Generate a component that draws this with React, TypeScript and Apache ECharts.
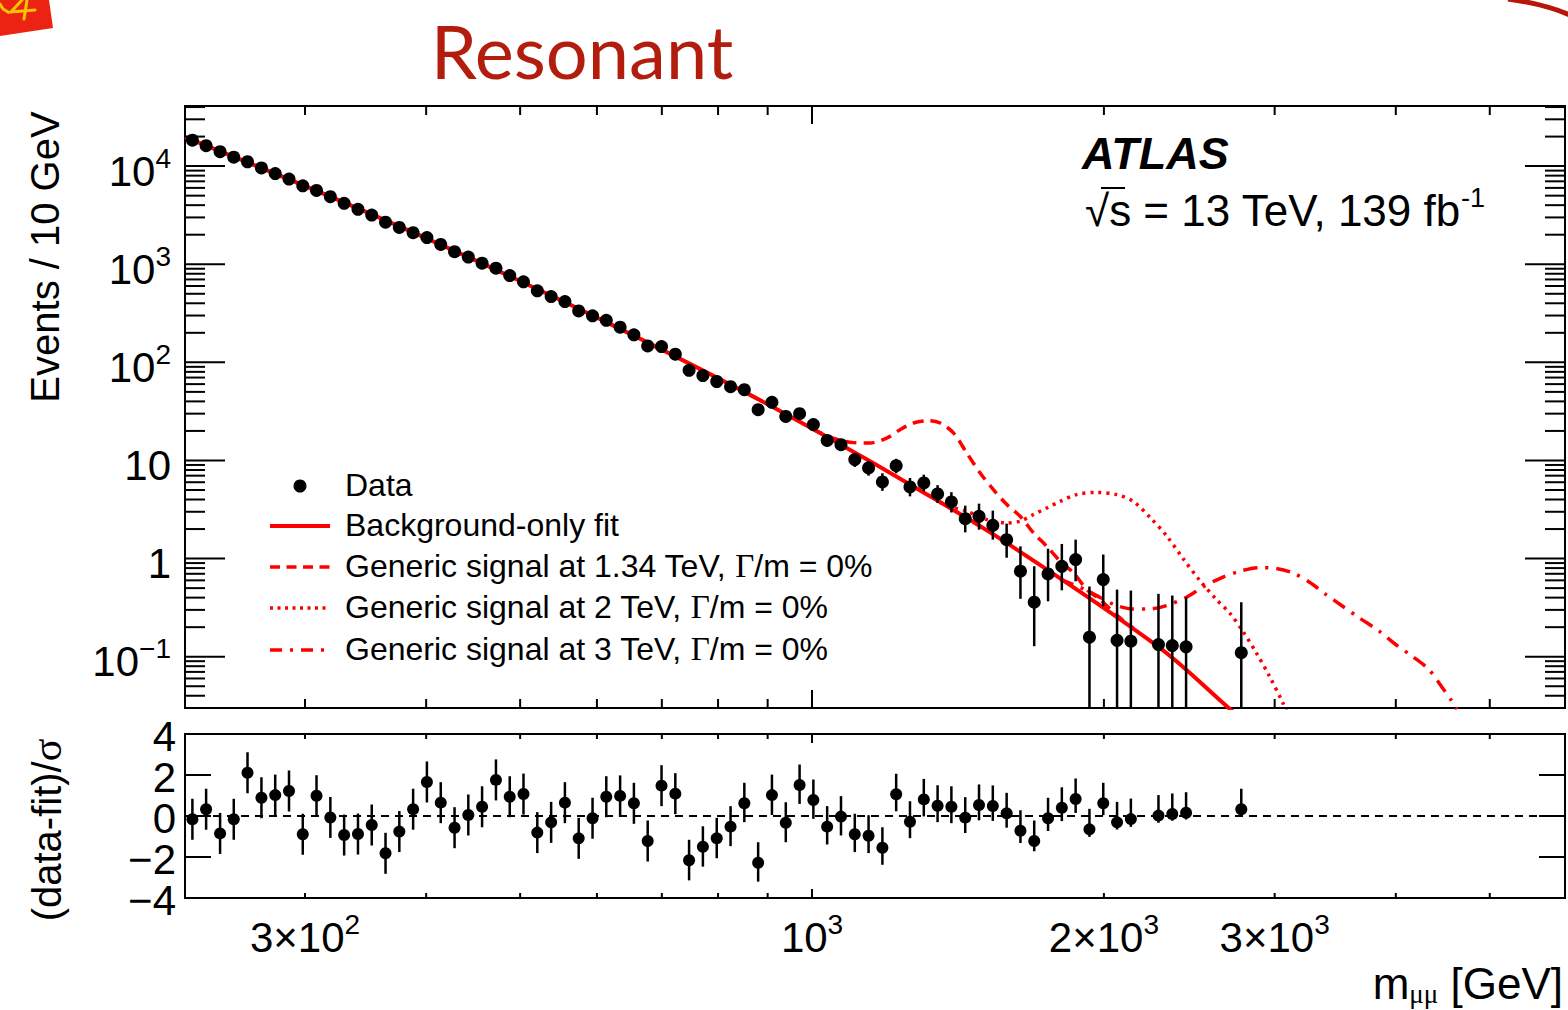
import React, { useEffect, useRef } from "react";
import * as echarts from "echarts";

// ---------------- data ----------------
const massBins = [
  229.6, 237.2, 245.2, 253.3, 261.7, 270.5, 279.5, 288.8, 298.4, 308.3,
  318.6, 329.2, 340.2, 351.5, 363.2, 375.3, 387.8, 400.7, 414.1, 427.9,
  442.1, 456.8, 472.1, 487.8, 504.0, 520.8, 538.2, 556.1, 574.6, 593.8,
  613.5, 634.0, 655.1, 676.9, 699.5, 722.8, 746.8, 771.7, 797.5, 824.1,
  851.5, 879.9, 909.2, 939.6, 970.9, 1003.2, 1036.6, 1071.2, 1106.9, 1143.7,
  1181.9, 1221.2, 1261.9, 1304.0, 1347.4, 1392.3, 1438.8, 1486.7, 1536.2, 1587.5,
  1640.4, 1694.9, 1751.5, 1809.8, 1870.1, 1932.5, 1996.9, 2063.4, 2132.2, 2276.6,
  2352.6, 2430.9, 2771.4,
];
const eventsPer10GeV = [
  18380, 16150, 14020, 12340, 11080, 9575, 8395, 7385, 6297, 5657,
  4883, 4178, 3631, 3169, 2680, 2371, 2098, 1869, 1592, 1344,
  1182, 1026, 912, 767, 662, 536, 468, 416, 334, 298,
  268, 228, 191, 147, 145, 121, 83.0, 73.3, 63.8, 56.5,
  52.6, 32.9, 39.1, 28.1, 30.0, 23.2, 16.0, 14.5, 10.2, 8.39,
  6.04, 8.85, 5.37, 5.9, 4.56, 3.78, 2.55, 2.7, 2.18, 1.56,
  0.743, 0.359, 0.698, 0.835, 0.977, 0.158, 0.611, 0.147, 0.144, 0.133,
  0.13, 0.126, 0.11,
];
// error bars of the tail bins (bins 41..72 of massBins)
const errBarFirstBin = 41;
const eventsErrHigh = [
  36.5, 43.0, 31.3, 33.2, 26.0, 18.3, 16.6, 11.9, 9.9, 7.4,
  10.4, 6.63, 7.17, 5.6, 4.75, 3.46, 3.63, 3.08, 2.27, 1.33,
  0.835, 1.26, 1.41, 1.56, 0.519, 1.1, 0.483, 0.472, 0.437, 0.42,
  0.403, 0.359,
];
const eventsErrLow = [
  29.6, 35.5, 25.2, 26.9, 20.6, 13.9, 12.5, 8.6, 7.0, 4.9,
  7.4, 4.31, 4.85, 3.69, 2.95, 1.85, 1.97, 1.56, 1.02, 0.389,
  0.128, 0.367, 0.475, 0.587, 0.02, 0.327, 0.02, 0.02, 0.02, 0.02,
  0.02, 0.02,
];
const significance = [
  -0.16, 0.33, -0.85, -0.16, 2.11, 0.89, 1.02, 1.22, -0.89, 0.99,
  -0.07, -0.93, -0.88, -0.44, -1.82, -0.76, 0.33, 1.66, 0.65, -0.57,
  0.05, 0.45, 1.76, 0.94, 1.07, -0.81, -0.31, 0.65, -1.09, -0.11,
  0.94, 0.98, 0.62, -1.22, 1.48, 1.09, -2.16, -1.5, -1.09, -0.52,
  0.62, -2.28, 1.02, -0.33, 1.51, 0.78, -0.52, -0.03, -0.89, -0.96,
  -1.55, 1.06, -0.28, 0.81, 0.5, 0.45, -0.08, 0.54, 0.49, 0.13,
  -0.72, -1.22, -0.11, 0.4, 0.83, -0.65, 0.62, -0.31, -0.15, 0.02,
  0.1, 0.16, 0.33,
];
const significanceErrDown = [
  1, 1, 1, 1, 1, 1, 1, 1, 1, 1,
  1, 1, 1, 1, 1, 1, 1, 1, 1, 1,
  1, 1, 1, 1, 1, 1, 1, 1, 1, 1,
  1, 1, 1, 1, 1, 1, 0.98, 0.97, 0.97, 0.95,
  0.92, 0.92, 0.97, 0.95, 0.92, 0.92, 0.87, 0.92, 0.87, 0.85,
  0.83, 0.83, 0.8, 0.83, 0.8, 0.8, 0.75, 0.75, 0.73, 0.7,
  0.6, 0.5, 0.62, 0.65, 0.68, 0.37, 0.58, 0.35, 0.38, 0.35,
  0.33, 0.33, 0.37,
];
const significanceErrUp = 1;

const fitMass = [225.6, 318.6, 442.1, 613.5, 851.5, 1071.2, 1261.9, 1587.5, 2276.6, 2688, 2900];
const fitValue = [19770, 4887, 1180, 257, 50.0, 14.49, 5.7, 1.445, 0.126, 0.0302, 0.0157];

const sig134Mass = [1000, 1035.5, 1068.8, 1103.2, 1147.6, 1194, 1232.6, 1272.3, 1318.2, 1355.4, 1399, 1444.2, 1490.6, 1538.5, 1588.2, 1639.2, 1691.8, 1746.5, 1802.6, 1860.5, 1920.6, 1982.2, 2061.5, 2144.2];
const sig134Value = [21.0, 17.9, 16.1, 15.2, 15.1, 16.9, 20.6, 24.1, 25.4, 24.1, 19.1, 11.9, 7.46, 5.04, 3.55, 2.7, 1.83, 1.33, 0.939, 0.715, 0.483, 0.382, 0.265, 0.195];

const sig2Mass = [1355.4, 1399, 1444.2, 1513.6, 1588.2, 1639.2, 1691.8, 1746.5, 1802.6, 1874.8, 1966, 2061.5, 2144.2, 2231.9, 2320.6, 2413.8, 2511.9, 2612.5, 2695.2, 2781.7, 2871.4, 2963.2, 3058.2, 3085];
const sig2Value = [3.72, 3.31, 3.03, 2.5, 2.31, 2.4, 2.81, 3.28, 3.83, 4.49, 4.73, 4.49, 3.83, 2.62, 1.71, 1.0, 0.597, 0.382, 0.28, 0.182, 0.11, 0.0633, 0.034, 0.0277];

const sig3Mass = [1802.6, 1860.5, 1920.6, 1982.2, 2061.5, 2144.2, 2231.9, 2320.6, 2433.6, 2530.7, 2632.8, 2760.9, 2895.4, 3011.8, 3132.6, 3258.8, 3389.1, 3525.5, 3667.7, 3845.5, 3999.8, 4160, 4327, 4468, 4557, 4625];
const sig3Value = [0.611, 0.544, 0.472, 0.401, 0.332, 0.306, 0.307, 0.332, 0.404, 0.515, 0.626, 0.743, 0.81, 0.791, 0.715, 0.574, 0.43, 0.327, 0.249, 0.182, 0.133, 0.101, 0.074, 0.0482, 0.0367, 0.029];

// axis ticks & labels
const xTickValues = [300, 400, 500, 600, 700, 800, 900, 1000, 2000, 3000, 4000, 5000];
const xMajorTickValues = [1000];
const xLabelValues = [300, 1000, 2000, 3000];
const xLabelTexts = ["{b|3×10}{s|2}", "{b|10}{s|3}", "{b|2×10}{s|3}", "{b|3×10}{s|3}"];
const yMajorValues = [0.1, 1, 10, 100, 1000, 10000];
const yLabelTexts = ["{b|10}{s|−1}", "{b|1}", "{b|10}", "{b|10}{s|2}", "{b|10}{s|3}", "{b|10}{s|4}"];
const yMinorMultipliers = [2, 3, 4, 5, 6, 7, 8, 9];
const ratioTickValues = [-2, 0, 2];
const ratioLabelValues = [-4, -2, 0, 2, 4];
const ratioLabelTexts = ["−4", "−2", "0", "2", "4"];

// ---------------- layout constants ----------------
const X_MIN = 225.6;
const X_MAX = 5978;
const Y_MIN = 0.03;
const Y_MAX = 41000;
const R_MIN = -4;
const R_MAX = 4;
const SANS = "'Liberation Sans', Arial, Helvetica, sans-serif";
const SERIF = "'Liberation Serif', 'Times New Roman', serif";
const RED = "#ff0000";

const richLabel = {
  b: { fontSize: 42, fontFamily: SANS, lineHeight: 48, verticalAlign: "bottom", fill: "#000", color: "#000" },
  s: { fontSize: 28, fontFamily: SANS, lineHeight: 22, verticalAlign: "top", fill: "#000", color: "#000" },
};

function tick(x1: number, y1: number, x2: number, y2: number) {
  return { type: "line", shape: { x1, y1, x2, y2 }, style: { stroke: "#000", lineWidth: 2 } };
}

function buildOption() {
  const yTickData: number[][] = [];
  yMajorValues.forEach((v) => yTickData.push([X_MIN, v, 1]));
  [0.01, 0.1, 1, 10, 100, 1000, 10000].forEach((d) =>
    yMinorMultipliers.forEach((k) => {
      const v = d * k;
      if (v > Y_MIN && v < Y_MAX) yTickData.push([X_MIN, v, 0]);
    })
  );

  const legendY = [486, 526, 567, 608, 650];
  const yellow = { stroke: "#f7c400", lineWidth: 3, fill: "none", lineCap: "round" };

  return {
    animation: false,
    backgroundColor: "#ffffff",
    grid: [
      { left: 185, top: 106, width: 1380, height: 602, show: true, borderColor: "#000", borderWidth: 2, backgroundColor: "transparent", outerBoundsMode: "none" },
      { left: 185, top: 734, width: 1380, height: 164, show: true, borderColor: "#000", borderWidth: 2, backgroundColor: "transparent", outerBoundsMode: "none" },
    ],
    xAxis: [0, 1].map((g) => ({
      type: "log",
      logBase: 10,
      gridIndex: g,
      min: X_MIN,
      max: X_MAX,
      axisLine: { show: false },
      axisTick: { show: false },
      axisLabel: { show: false },
      splitLine: { show: false },
      minorTick: { show: false },
    })),
    yAxis: [
      {
        type: "log", logBase: 10, gridIndex: 0, min: Y_MIN, max: Y_MAX,
        axisLine: { show: false }, axisTick: { show: false }, axisLabel: { show: false }, splitLine: { show: false },
      },
      {
        type: "value", gridIndex: 1, min: R_MIN, max: R_MAX,
        axisLine: { show: false }, axisTick: { show: false }, axisLabel: { show: false }, splitLine: { show: false },
      },
    ],
    series: [
      // background-only fit
      {
        type: "line", xAxisIndex: 0, yAxisIndex: 0, name: "Background-only fit",
        data: fitMass.map((m, i) => [m, fitValue[i]]),
        showSymbol: false, symbol: "none", smooth: 0.35, clip: true, z: 3,
        lineStyle: { color: RED, width: 4 },
      },
      {
        type: "line", xAxisIndex: 0, yAxisIndex: 0, name: "sig134",
        data: sig134Mass.map((m, i) => [m, sig134Value[i]]),
        showSymbol: false, symbol: "none", smooth: 0.3, clip: true, z: 4,
        lineStyle: { color: RED, width: 3.5, type: [11, 7] },
      },
      {
        type: "line", xAxisIndex: 0, yAxisIndex: 0, name: "sig2",
        data: sig2Mass.map((m, i) => [m, sig2Value[i]]),
        showSymbol: false, symbol: "none", smooth: 0.3, clip: true, z: 4,
        lineStyle: { color: RED, width: 3.5, type: [3, 5] },
      },
      {
        type: "line", xAxisIndex: 0, yAxisIndex: 0, name: "sig3",
        data: sig3Mass.map((m, i) => [m, sig3Value[i]]),
        showSymbol: false, symbol: "none", smooth: 0.3, clip: true, z: 4,
        lineStyle: { color: RED, width: 3.5, type: [14, 8, 3, 8] },
      },
      // data error bars (top)
      {
        type: "custom", xAxisIndex: 0, yAxisIndex: 0, clip: true, silent: true, z: 5,
        data: eventsErrHigh.map((h, k) => [massBins[errBarFirstBin + k], eventsErrLow[k], h]),
        renderItem: (params: any, api: any) => {
          const a = api.coord([api.value(0), api.value(1)]);
          const b = api.coord([api.value(0), api.value(2)]);
          return { type: "line", shape: { x1: a[0], y1: a[1], x2: b[0], y2: b[1] }, style: { stroke: "#000", lineWidth: 2.5 } };
        },
      },
      // data points (top)
      {
        type: "scatter", xAxisIndex: 0, yAxisIndex: 0, name: "Data",
        data: massBins.map((m, i) => [m, eventsPer10GeV[i]]),
        symbol: "circle", symbolSize: 13, itemStyle: { color: "#000", opacity: 1 }, z: 6, clip: true,
      },
      // ratio error bars
      {
        type: "custom", xAxisIndex: 1, yAxisIndex: 1, clip: true, silent: true, z: 5,
        data: massBins.map((m, i) => [m, significance[i] - significanceErrDown[i], significance[i] + significanceErrUp]),
        renderItem: (params: any, api: any) => {
          const a = api.coord([api.value(0), api.value(1)]);
          const b = api.coord([api.value(0), api.value(2)]);
          return { type: "line", shape: { x1: a[0], y1: a[1], x2: b[0], y2: b[1] }, style: { stroke: "#000", lineWidth: 2.5 } };
        },
      },
      // ratio points
      {
        type: "scatter", xAxisIndex: 1, yAxisIndex: 1, name: "ratio",
        data: massBins.map((m, i) => [m, significance[i]]),
        symbol: "circle", symbolSize: 12, itemStyle: { color: "#000", opacity: 1 }, z: 6,
        markLine: {
          silent: true, symbol: ["none", "none"], label: { show: false },
          lineStyle: { color: "#000", width: 1.8, type: [8, 6], opacity: 1 },
          data: [{ yAxis: 0 }],
          z: 2,
        },
      },
      // top panel y ticks + labels
      {
        type: "custom", xAxisIndex: 0, yAxisIndex: 0, clip: false, silent: true, z: 10,
        data: yTickData,
        renderItem: (params: any, api: any) => {
          const v = api.value(1);
          const major = api.value(2) === 1;
          const l = api.coord([X_MIN, v]);
          const r = api.coord([X_MAX, v]);
          const len = major ? 40 : 20;
          const children: any[] = [tick(l[0], l[1], l[0] + len, l[1]), tick(r[0] - len, r[1], r[0], r[1])];
          if (major) {
            const idx = yMajorValues.indexOf(v);
            children.push({
              type: "text", x: l[0] - 14, y: l[1] + 2,
              style: { text: yLabelTexts[idx], rich: richLabel, align: "right", verticalAlign: "middle", textAlign: "right", textVerticalAlign: "middle" },
            });
          }
          return { type: "group", children };
        },
      },
      // top panel x ticks
      {
        type: "custom", xAxisIndex: 0, yAxisIndex: 0, clip: false, silent: true, z: 10,
        data: xTickValues.map((v) => [v, Y_MIN]),
        renderItem: (params: any, api: any) => {
          const v = api.value(0);
          const len = xMajorTickValues.indexOf(v) >= 0 ? 18 : 9;
          const b = api.coord([v, Y_MIN]);
          const t = api.coord([v, Y_MAX]);
          return { type: "group", children: [tick(b[0], b[1], b[0], b[1] - len), tick(t[0], t[1], t[0], t[1] + len)] };
        },
      },
      // ratio x ticks
      {
        type: "custom", xAxisIndex: 1, yAxisIndex: 1, clip: false, silent: true, z: 10,
        data: xTickValues.map((v) => [v, R_MIN]),
        renderItem: (params: any, api: any) => {
          const v = api.value(0);
          const len = xMajorTickValues.indexOf(v) >= 0 ? 9 : 5;
          const b = api.coord([v, R_MIN]);
          const t = api.coord([v, R_MAX]);
          return { type: "group", children: [tick(b[0], b[1], b[0], b[1] - len), tick(t[0], t[1], t[0], t[1] + len)] };
        },
      },
      // ratio x labels
      {
        type: "custom", xAxisIndex: 1, yAxisIndex: 1, clip: false, silent: true, z: 10,
        data: xLabelValues.map((v) => [v, R_MIN]),
        renderItem: (params: any, api: any) => {
          const b = api.coord([api.value(0), R_MIN]);
          return {
            type: "text", x: b[0], y: b[1] + 36,
            style: { text: xLabelTexts[params.dataIndex], rich: richLabel, align: "center", verticalAlign: "middle", textAlign: "center", textVerticalAlign: "middle" },
          };
        },
      },
      // ratio y ticks
      {
        type: "custom", xAxisIndex: 1, yAxisIndex: 1, clip: false, silent: true, z: 10,
        data: ratioTickValues.map((v) => [X_MIN, v]),
        renderItem: (params: any, api: any) => {
          const v = api.value(1);
          const l = api.coord([X_MIN, v]);
          const r = api.coord([X_MAX, v]);
          return { type: "group", children: [tick(l[0], l[1], l[0] + 26, l[1]), tick(r[0] - 26, r[1], r[0], r[1])] };
        },
      },
      // ratio y labels
      {
        type: "custom", xAxisIndex: 1, yAxisIndex: 1, clip: false, silent: true, z: 10,
        data: ratioLabelValues.map((v) => [X_MIN, v]),
        renderItem: (params: any, api: any) => {
          const l = api.coord([X_MIN, api.value(1)]);
          return {
            type: "text", x: l[0] - 9, y: l[1] + 2,
            style: { text: ratioLabelTexts[params.dataIndex], fontSize: 42, lineHeight: 40, fontFamily: SANS, fill: "#000", align: "right", verticalAlign: "middle", textAlign: "right", textVerticalAlign: "middle" },
          };
        },
      },
    ],
    graphic: [
      // slide decorations (corner tag with hand-drawn yellow strokes, red arc)
      { type: "polygon", shape: { points: [[0, 0], [49, 0], [53, 28], [0, 36]] }, style: { fill: "#ec2212" } },
      { type: "polyline", shape: { points: [[0, 4], [3, 9], [8, 12]] }, style: yellow },
      { type: "polyline", shape: { points: [[22, 0], [11, 12], [35, 10]] }, style: yellow },
      { type: "polyline", shape: { points: [[27, 0], [24, 19]] }, style: yellow },
      { type: "bezierCurve", shape: { x1: 1508, y1: -1, cpx1: 1530, cpy1: 2, cpx2: 1550, cpy2: 6, x2: 1572, y2: 16 }, style: { stroke: "#b8160c", lineWidth: 5, fill: "none" } },
      // title
      { type: "text", x: 582, y: 50, style: { text: "Resonant", fontSize: 74, fontFamily: "Lato, 'Open Sans', sans-serif", fill: "#b31d0e", align: "center", verticalAlign: "middle", textAlign: "center", textVerticalAlign: "middle" } },
      // ATLAS label
      { type: "text", x: 1082, y: 153, style: { text: "ATLAS", fontSize: 45, fontWeight: "bold", fontStyle: "italic", fontFamily: SANS, fill: "#000", verticalAlign: "middle", textVerticalAlign: "middle" } },
      {
        type: "text", x: 1085, y: 208,
        style: {
          text: "{a|√s = 13 TeV, 139 fb}{s|-1}",
          rich: {
            a: { fontSize: 44, fontFamily: SANS, lineHeight: 48, verticalAlign: "bottom", fill: "#000" },
            s: { fontSize: 27, fontFamily: SANS, lineHeight: 22, verticalAlign: "top", fill: "#000" },
          },
          verticalAlign: "middle", textVerticalAlign: "middle",
        },
      },
      { type: "line", shape: { x1: 1101, y1: 188, x2: 1125, y2: 188 }, style: { stroke: "#000", lineWidth: 2 } },
      // axis titles
      { type: "text", x: 45, y: 257, rotation: Math.PI / 2, style: { text: "Events / 10 GeV", fontSize: 40, fontFamily: SANS, fill: "#000", align: "center", verticalAlign: "middle", textAlign: "center", textVerticalAlign: "middle" } },
      {
        type: "text", x: 47, y: 830, rotation: Math.PI / 2,
        style: {
          text: "{a|(data-fit)/}{g|σ}",
          rich: { a: { fontSize: 40, fontFamily: SANS, fill: "#000" }, g: { fontSize: 42, fontFamily: SERIF, fill: "#000" } },
          align: "center", verticalAlign: "middle", textAlign: "center", textVerticalAlign: "middle",
        },
      },
      {
        type: "text", x: 1563, y: 984,
        style: {
          text: "{a|m}{u|μμ}{a| [GeV]}",
          rich: {
            a: { fontSize: 44, fontFamily: SANS, lineHeight: 46, verticalAlign: "top", fill: "#000" },
            u: { fontSize: 27, fontFamily: SERIF, lineHeight: 20, verticalAlign: "bottom", fill: "#000" },
          },
          align: "right", verticalAlign: "middle", textAlign: "right", textVerticalAlign: "middle",
        },
      },
      // legend
      { type: "circle", shape: { cx: 300, cy: legendY[0], r: 6.5 }, style: { fill: "#000" } },
      { type: "line", shape: { x1: 270, y1: legendY[1], x2: 330, y2: legendY[1] }, style: { stroke: RED, lineWidth: 4 } },
      { type: "line", shape: { x1: 270, y1: legendY[2], x2: 330, y2: legendY[2] }, style: { stroke: RED, lineWidth: 3.5, lineDash: [10, 6.5] } },
      { type: "line", shape: { x1: 270, y1: legendY[3], x2: 330, y2: legendY[3] }, style: { stroke: RED, lineWidth: 3.5, lineDash: [3, 4.5] } },
      { type: "line", shape: { x1: 270, y1: legendY[4], x2: 330, y2: legendY[4] }, style: { stroke: RED, lineWidth: 3.5, lineDash: [12, 8, 3, 8] } },
      ...[
        "{a|Data}",
        "{a|Background-only fit}",
        "{a|Generic signal at 1.34 TeV, }{g|Γ}{a|/m = 0%}",
        "{a|Generic signal at 2 TeV, }{g|Γ}{a|/m = 0%}",
        "{a|Generic signal at 3 TeV, }{g|Γ}{a|/m = 0%}",
      ].map((t, i) => ({
        type: "text", x: 345, y: legendY[i] - 1,
        style: {
          text: t,
          rich: { a: { fontSize: 32, fontFamily: SANS, fill: "#000" }, g: { fontSize: 33, fontFamily: SERIF, fill: "#000" } },
          verticalAlign: "middle", textVerticalAlign: "middle",
        },
      })),
    ],
  };
}

export default function App() {
  const ref = useRef<HTMLDivElement>(null);
  useEffect(() => {
    if (!ref.current) return;
    const chart = echarts.init(ref.current, null, { renderer: "svg" });
    chart.setOption(buildOption() as any);
    return () => chart.dispose();
  }, []);
  return <div ref={ref} style={{ position: "fixed", left: 0, top: 0, width: 1568, height: 1010, background: "#fff" }} />;
}
